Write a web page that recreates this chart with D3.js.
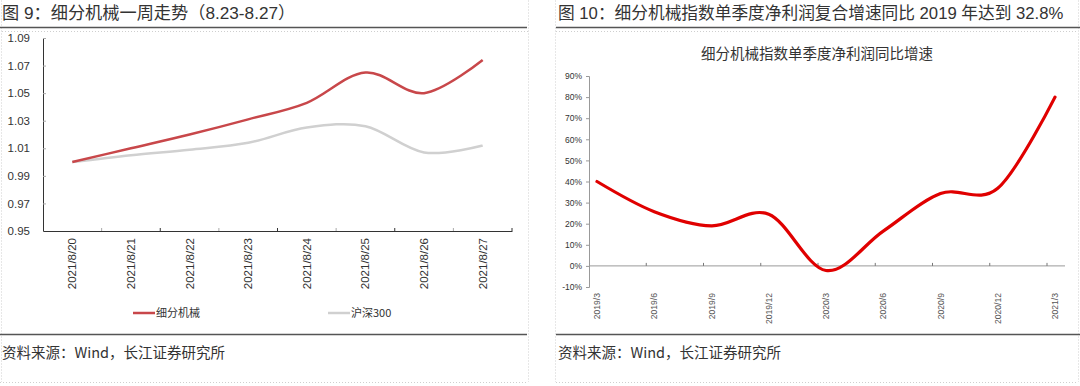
<!DOCTYPE html>
<html>
<head>
<meta charset="utf-8">
<script src="https://cdn.jsdelivr.net/npm/d3@7/dist/d3.min.js"></script>
<style>
  html, body { margin: 0; padding: 0; background: #fff; }
  svg { display: block; font-family: "Liberation Sans", "Noto Sans CJK SC", sans-serif; }
</style>
</head>
<body>
<svg id="chart" width="1080" height="386"></svg>
<script>
// ---------- data ----------
const leftTitle = "图 9：细分机械一周走势（8.23-8.27）";
const rightTitle = "图 10：细分机械指数单季度净利润复合增速同比 2019 年达到 32.8%";
const rightSubtitle = "细分机械指数单季度净利润同比增速";
const sourceText = "资料来源：Wind，长江证券研究所";

const leftDates = ["2021/8/20","2021/8/21","2021/8/22","2021/8/23","2021/8/24","2021/8/25","2021/8/26","2021/8/27"];
const machinery = [1.000, 1.010, 1.020, 1.031, 1.043, 1.065, 1.050, 1.074];
const hs300     = [1.000, 1.005, 1.009, 1.014, 1.025, 1.026, 1.007, 1.012];
const leftSeriesNames = ["细分机械", "沪深300"];
const leftYTicks = [0.95, 0.97, 0.99, 1.01, 1.03, 1.05, 1.07, 1.09];

const quarters = ["2019/3","2019/6","2019/9","2019/12","2020/3","2020/6","2020/9","2020/12","2021/3"];
const profitGrowth = [40, 25.7, 19, 24.5, -2.2, 16.5, 34.3, 36.8, 80];
const rightYTicks = [-10, 0, 10, 20, 30, 40, 50, 60, 70, 80, 90];

// ---------- drawing ----------
const svg = d3.select("#chart");
const CJK = "\"Noto Sans CJK SC\", \"Liberation Sans\", sans-serif";
const MIX = "\"Liberation Sans\", \"Noto Sans CJK SC\", sans-serif";

// dotted panel borders
function dotted(x1, y1, x2, y2) {
  svg.append("line").attr("x1", x1).attr("y1", y1).attr("x2", x2).attr("y2", y2)
    .attr("stroke", "#cfcfcf").attr("stroke-width", 1).attr("stroke-dasharray", "1,2");
}
dotted(1.5, 0.5, 1.5, 382); dotted(528.5, 0.5, 528.5, 382);
dotted(555.5, 0.5, 555.5, 382); dotted(1078.5, 0.5, 1078.5, 382);
dotted(0, 382.5, 528, 382.5); dotted(556, 382.5, 1078, 382.5);
dotted(556, 31.5, 1078, 31.5); dotted(2, 31.5, 528, 31.5);

// titles, rules, sources
function panelFrame(x0, x1, title, fs) {
  svg.append("text").attr("x", x0 + 2).attr("y", 19).attr("font-size", fs)
    .attr("fill", "#333").style("font-family", MIX).text(title);
  svg.append("line").attr("x1", x0).attr("x2", x1).attr("y1", 27.5).attr("y2", 27.5)
    .attr("stroke", "#555").attr("stroke-width", 1.5);
  svg.append("line").attr("x1", x0).attr("x2", x1).attr("y1", 334.5).attr("y2", 334.5)
    .attr("stroke", "#555").attr("stroke-width", 1.5);
  svg.append("text").attr("x", x0 + 2).attr("y", 358).attr("font-size", 14.5)
    .attr("fill", "#333").style("font-family", CJK).text(sourceText);
}
panelFrame(0, 527, leftTitle, 17.2);
panelFrame(556, 1080, rightTitle, 16.7);

// ---------- left chart ----------
const xL = d3.scaleBand().domain(leftDates).range([43, 512]);
const yL = d3.scaleLinear().domain([0.95, 1.09]).range([231, 38]);
const gL = svg.append("g");

// y axis
const yAxisL = gL.append("g").attr("transform", "translate(43,0)")
  .call(d3.axisLeft(yL).tickValues(leftYTicks).tickFormat(d3.format(".2f")).tickSize(-3).tickPadding(13));
yAxisL.select(".domain").attr("stroke", "#333");
yAxisL.selectAll(".tick line").attr("stroke", "#aaa");
yAxisL.selectAll(".tick text").attr("font-size", 11.5).attr("fill", "#333")
  .style("font-family", "\"Liberation Sans\", sans-serif");

// x axis
const xAxisL = gL.append("g").attr("transform", "translate(0,231)")
  .call(d3.axisBottom(xL).tickSize(0).tickPadding(0));
xAxisL.select(".domain").attr("stroke", "#333");
xAxisL.selectAll(".tick text")
  .attr("font-size", 11.5).attr("fill", "#333")
  .attr("text-anchor", "end").attr("dy", "0.35em")
  .attr("transform", "translate(0,7) rotate(-90)").attr("y", 0).attr("x", 0)
  .style("font-family", "\"Liberation Sans\", sans-serif");
// band-boundary tick marks (inner)
gL.append("g").selectAll("line").data(leftDates)
  .join("line")
  .attr("x1", d => xL(d) + xL.bandwidth())
  .attr("x2", d => xL(d) + xL.bandwidth())
  .attr("y1", 231).attr("y2", 228).attr("stroke", (d, i) => i % 2 === 0 ? "#aaa" : "#333");

const lineL = d3.line().x((d, i) => xL(leftDates[i]) + xL.bandwidth() / 2).y(d => yL(d))
  .curve(d3.curveCardinal.tension(0));
gL.append("path").datum(hs300).attr("d", lineL).attr("fill", "none")
  .attr("stroke", "#d0d0d0").attr("stroke-width", 2.5);
gL.append("path").datum(machinery).attr("d", lineL).attr("fill", "none")
  .attr("stroke", "#c8474a").attr("stroke-width", 2.5);

// legend
const legendColors = ["#c8474a", "#d0d0d0"];
const legendX = [133, 328];
leftSeriesNames.forEach((name, i) => {
  gL.append("line").attr("x1", legendX[i]).attr("x2", legendX[i] + 22)
    .attr("y1", 313).attr("y2", 313).attr("stroke", legendColors[i]).attr("stroke-width", 2.5);
  gL.append("text").attr("x", legendX[i] + 23).attr("y", 317).attr("font-size", 11)
    .attr("fill", "#333").style("font-family", CJK).text(name);
});

// ---------- right chart ----------
const gR = svg.append("g");
gR.append("text").attr("x", 817).attr("y", 59).attr("text-anchor", "middle")
  .attr("font-size", 14.5).attr("fill", "#333").style("font-family", CJK).text(rightSubtitle);

const xR = d3.scalePoint().domain(quarters).range([597, 1055]);
const yR = d3.scaleLinear().domain([-10, 90]).range([287, 76]);

const yAxisR = gR.append("g").attr("transform", "translate(589,0)")
  .call(d3.axisLeft(yR).tickValues(rightYTicks).tickFormat(d => d + "%").tickSize(3).tickPadding(4));
yAxisR.select(".domain").attr("stroke", "#999");
yAxisR.selectAll(".tick line").attr("stroke", "#999");
yAxisR.selectAll(".tick text").attr("font-size", 8.5).attr("fill", "#333")
  .style("font-family", "\"Liberation Sans\", sans-serif");

// x axis line at 0%
const y0 = yR(0);
gR.append("line").attr("x1", 589).attr("x2", 1065).attr("y1", y0).attr("y2", y0)
  .attr("stroke", "#999").attr("stroke-width", 1);
gR.append("g").selectAll("line").data(quarters.slice(1)).join("line")
  .attr("x1", d => xR(d) - 8).attr("x2", d => xR(d) - 8)
  .attr("y1", y0 - 3).attr("y2", y0).attr("stroke", "#777");
gR.append("g").selectAll("text").data(quarters).join("text")
  .attr("transform", d => `translate(${xR(d) + 3},293) rotate(-90)`)
  .attr("text-anchor", "end").attr("font-size", 8.6).attr("fill", "#555")
  .style("font-family", "\"Liberation Sans\", sans-serif").text(d => d);

const lineR = d3.line().x((d, i) => xR(quarters[i])).y(d => yR(d))
  .curve(d3.curveCardinal.tension(0));
gR.append("path").datum(profitGrowth).attr("d", lineR).attr("fill", "none")
  .attr("stroke", "#e00000").attr("stroke-width", 3.2).attr("stroke-linecap", "round");
</script>
</body>
</html>
